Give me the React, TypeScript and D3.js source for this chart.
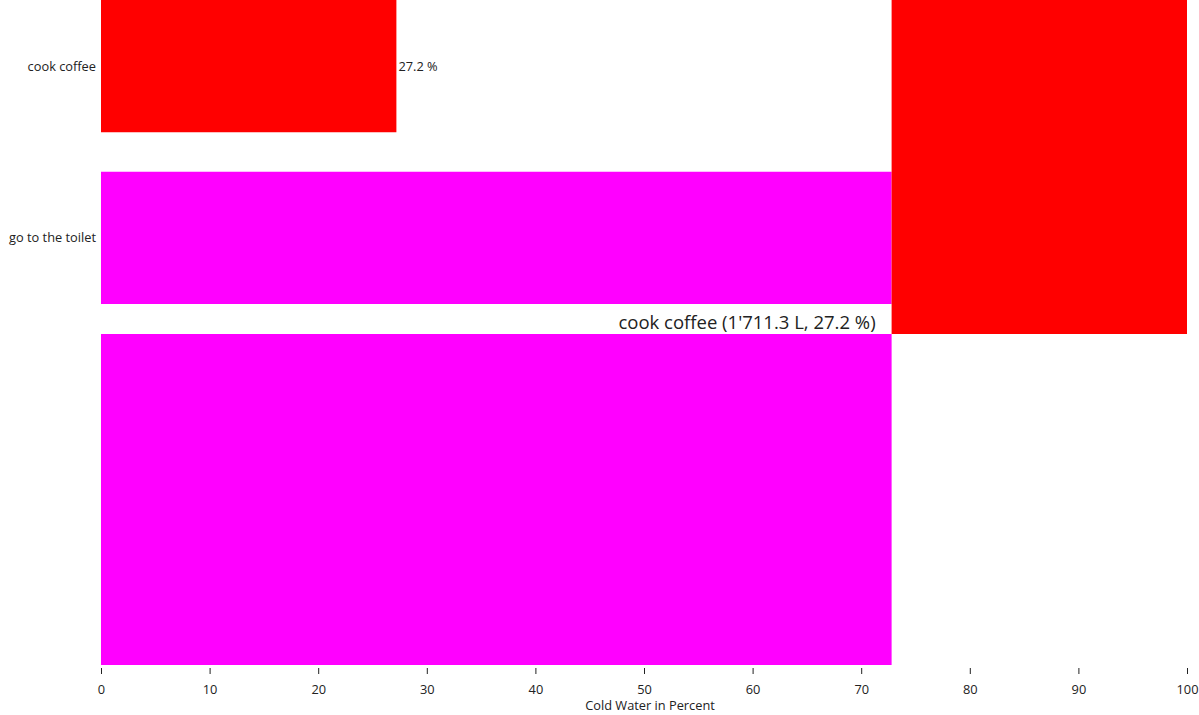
import React, { useEffect, useRef } from "react";
import * as d3 from "d3";

const categories = ["cook coffee", "go to the toilet"];
const percents = [27.2, 72.8];
const liters = [1711.3, 4580.1];
const colors = ["#ff0000", "#ff00ff"];
const xTicks = [0, 10, 20, 30, 40, 50, 60, 70, 80, 90, 100];
const axisTitle = "Cold Water in Percent";
const hoveredIndex = 0;

const W = 1199;
const H = 715;
const margin = { left: 101, right: 12, top: 0, bottom: 50 };

export default function App() {
  const ref = useRef<SVGSVGElement>(null);

  useEffect(() => {
    const svg = d3.select(ref.current);
    svg.selectAll("*").remove();
    const font = "'Open Sans', 'Noto Sans', sans-serif";
    const textColor = "#222";
    const fs = 12.8;

    const x = d3.scaleLinear().domain([0, 100]).range([margin.left, W - margin.right]);
    const plotBottom = 665;
    const y = d3.scaleBand<string>().domain(categories).range([0, 304]).paddingInner(0.23).paddingOuter(0);
    const yStack = d3.scaleBand<number>().domain([0, 1]).range([0, 668]).padding(0);

    const g = svg.append("g");

    g.selectAll("rect.bar")
      .data(categories)
      .enter()
      .append("rect")
      .attr("x", x(0))
      .attr("y", (d) => y(d)!)
      .attr("width", (_d, i) => x(percents[i]) - x(0))
      .attr("height", y.bandwidth())
      .attr("fill", (_d, i) => colors[i]);

    g.selectAll("text.cat")
      .data(categories)
      .enter()
      .append("text")
      .attr("x", x(0) - 5)
      .attr("y", (d) => y(d)! + y.bandwidth() / 2)
      .attr("dy", "0.35em")
      .attr("text-anchor", "end")
      .attr("font-family", font)
      .attr("font-size", fs)
      .attr("fill", textColor)
      .text((d) => d);

    g.selectAll("text.val")
      .data(categories)
      .enter()
      .append("text")
      .attr("x", (_d, i) => x(percents[i]) + 2)
      .attr("y", (d) => y(d)! + y.bandwidth() / 2)
      .attr("dy", "0.35em")
      .attr("font-family", font)
      .attr("font-size", fs)
      .attr("fill", textColor)
      .text((_d, i) => `${percents[i]} %`);

    const stack = [
      { x0: percents[1], x1: percents[1] + percents[0], band: 0, color: colors[0] },
      { x0: 0, x1: percents[1], band: 1, color: colors[1] },
    ];
    g.selectAll("rect.stack")
      .data(stack)
      .enter()
      .append("rect")
      .attr("x", (d) => x(d.x0))
      .attr("y", (d) => yStack(d.band)!)
      .attr("width", (d) => x(d.x1) - x(d.x0))
      .attr("height", (d) => (d.band === 1 ? plotBottom - yStack(d.band)! : yStack.bandwidth()))
      .attr("fill", (d) => d.color);

    const fmt = (v: number) => d3.format(",.1f")(v).replace(/,/g, "'");
    g.append("text")
      .attr("x", x(percents[1]) - 16)
      .attr("y", yStack(1)! - 11)
      .attr("dy", "0.35em")
      .attr("text-anchor", "end")
      .attr("font-family", font)
      .attr("font-size", 18.5)
      .attr("fill", textColor)
      .text(`${categories[hoveredIndex]} (${fmt(liters[hoveredIndex])} L, ${percents[hoveredIndex]} %)`);

    const axis = d3.axisBottom(x).tickValues(xTicks).tickSize(6).tickPadding(11).tickFormat(d3.format("d"));
    const ag = svg.append("g").attr("transform", `translate(0,668)`).call(axis);
    ag.select(".domain").remove();
    ag.selectAll("line").attr("stroke", "#222");
    ag.selectAll("text").attr("font-family", font).attr("font-size", fs).attr("fill", textColor);

    svg.append("text")
      .attr("x", x(50) + 6)
      .attr("y", 710)
      .attr("text-anchor", "middle")
      .attr("font-family", font)
      .attr("font-size", fs)
      .attr("fill", textColor)
      .text(axisTitle);
  }, []);

  return (
    <svg
      ref={ref}
      width={W}
      height={H}
      style={{ position: "absolute", left: 0, top: 0, display: "block", background: "#fff" }}
    />
  );
}
